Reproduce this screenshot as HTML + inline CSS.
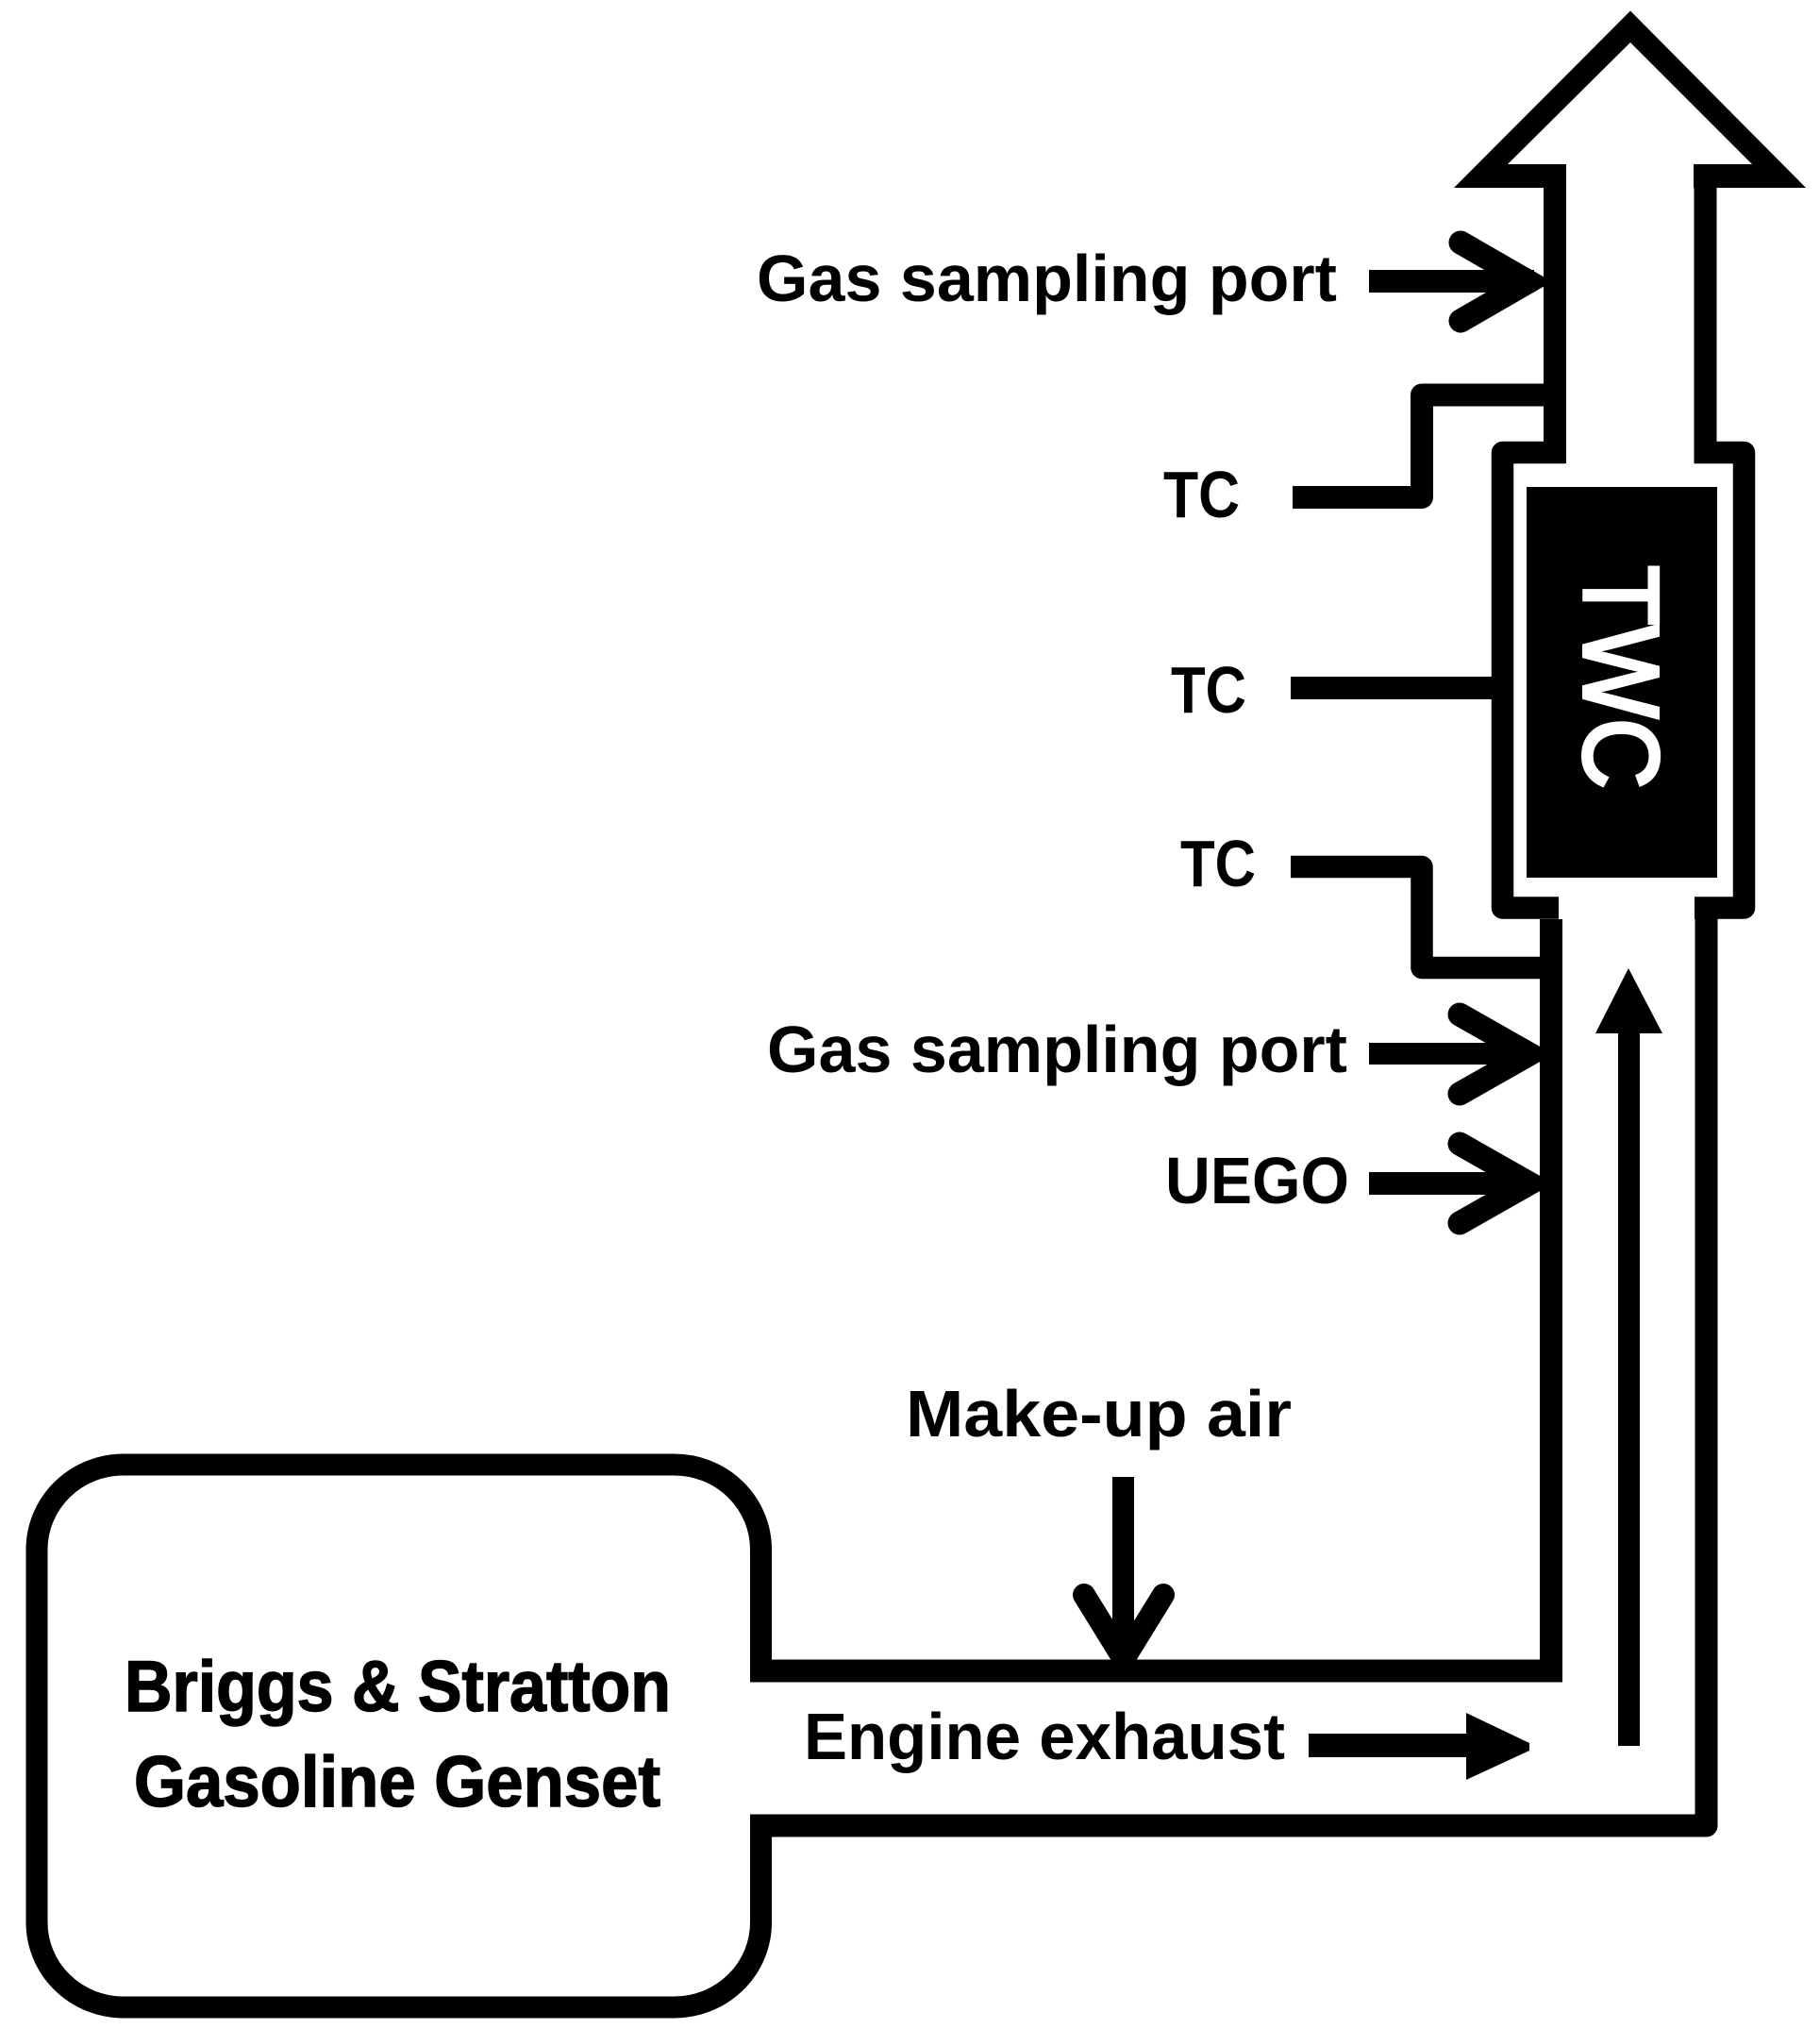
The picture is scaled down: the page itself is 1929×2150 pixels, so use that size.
<!DOCTYPE html>
<html><head><meta charset="utf-8"><style>
html,body{margin:0;padding:0;background:#fff}
svg{display:block}
text{font-family:"Liberation Sans",sans-serif;fill:#000}
.l{font-size:70px;font-weight:bold}
.b{font-size:76px;font-weight:bold;stroke:#000;stroke-width:1.5px}
</style></head><body>
<svg width="1929" height="2150" viewBox="0 0 1929 2150" xmlns="http://www.w3.org/2000/svg">
<rect width="1929" height="2150" fill="#fff"/>
<!-- engine box -->
<path d="M806.5,1782 L806.5,1642 A92,90 0 0 0 714.5,1552 L131,1552 A92,90 0 0 0 39,1642 L39,2037 A92,90 0 0 0 131,2127 L714.5,2127 A92,90 0 0 0 806.5,2037 L806.5,1923" fill="none" stroke="#000" stroke-width="23"/>
<!-- lower pipe -->
<path d="M1644,974 L1644,1770.5 L795,1770.5" fill="none" stroke="#000" stroke-width="24"/>
<path d="M795,1934.5 L1808.5,1934.5 L1808.5,962" fill="none" stroke="#000" stroke-width="24" stroke-linejoin="round"/>
<!-- flange -->
<path d="M1659,479.5 L1592.5,479.5 L1592.5,962 L1652,962" fill="none" stroke="#000" stroke-width="23.5" stroke-linejoin="round"/>
<path d="M1796,479.5 L1848.5,479.5 L1848.5,962 L1796,962" fill="none" stroke="#000" stroke-width="23.5" stroke-linejoin="round"/>
<!-- arrow head + upper walls -->
<polygon points="1728,11.5 1914,199 1541,199" fill="#000"/>
<polygon points="1728,45 1857,174 1598,174" fill="#fff"/>
<rect x="1660" y="170" width="135" height="35" fill="#fff"/>
<rect x="1636" y="174" width="24" height="317" fill="#000"/>
<rect x="1795.5" y="174" width="24" height="317" fill="#000"/>
<!-- TWC -->
<rect x="1618" y="516" width="202" height="414" fill="#000"/>
<text transform="translate(1679,599) rotate(90)" font-size="113" textLength="237" lengthAdjust="spacingAndGlyphs" style="fill:#fff;stroke:#fff;stroke-width:4px;font-family:'Liberation Sans',sans-serif">TWC</text>
<!-- TC leads -->
<path d="M1370,527 L1507,527 L1507,418.5 L1640,418.5" fill="none" stroke="#000" stroke-width="24" stroke-linejoin="round"/>
<rect x="1368" y="717" width="216" height="24" fill="#000"/>
<path d="M1368,918.5 L1507,918.5 L1507,1025.5 L1636,1025.5" fill="none" stroke="#000" stroke-width="23.5" stroke-linejoin="round"/>
<!-- port arrows -->
<g fill="none" stroke="#000" stroke-linecap="round" stroke-linejoin="miter" stroke-miterlimit="10" stroke-width="25">
<path d="M1548,257 L1620,298.5 L1548,340"/>
<path d="M1547,1075 L1621,1117 L1547,1159"/>
<path d="M1547,1212 L1621,1254 L1547,1296"/>
<path stroke-width="24" d="M1149,1690 L1191,1758 L1233,1690"/>
</g>
<rect x="1451" y="286" width="175" height="24" fill="#000"/>
<rect x="1451" y="1105" width="170" height="23" fill="#000"/>
<rect x="1451" y="1242" width="170" height="24" fill="#000"/>
<rect x="1636" y="240" width="24" height="120" fill="#000"/>
<rect x="1632" y="1050" width="24" height="260" fill="#000"/>
<!-- make-up stem -->
<rect x="1179" y="1565" width="23" height="195" fill="#000"/>
<rect x="1100" y="1759" width="190" height="23" fill="#000"/>
<!-- flow arrows -->
<rect x="1715" y="1090" width="23" height="760" fill="#000"/>
<polygon points="1726,1026 1762,1095 1691,1095" fill="#000"/>
<rect x="1387" y="1837" width="170" height="25" fill="#000"/>
<polygon points="1554,1815 1621,1847 1621,1855 1554,1886" fill="#000"/>
<!-- labels -->
<text class="l" x="802" y="319" textLength="615" lengthAdjust="spacingAndGlyphs">Gas sampling port</text>
<text class="l" x="1233" y="548" textLength="81" lengthAdjust="spacingAndGlyphs">TC</text>
<text class="l" x="1241" y="755" textLength="80" lengthAdjust="spacingAndGlyphs">TC</text>
<text class="l" x="1251" y="939" textLength="80" lengthAdjust="spacingAndGlyphs">TC</text>
<text class="l" x="813" y="1136" textLength="615" lengthAdjust="spacingAndGlyphs">Gas sampling port</text>
<text class="l" x="1235" y="1275" textLength="195" lengthAdjust="spacingAndGlyphs">UEGO</text>
<text class="l" x="960" y="1522" textLength="409" lengthAdjust="spacingAndGlyphs">Make-up air</text>
<text class="l" x="852" y="1864" textLength="510" lengthAdjust="spacingAndGlyphs">Engine exhaust</text>
<text class="b" x="132" y="1813" textLength="579" lengthAdjust="spacingAndGlyphs">Briggs &amp; Stratton</text>
<text class="b" x="142" y="1914" textLength="558" lengthAdjust="spacingAndGlyphs">Gasoline Genset</text>
</svg>
</body></html>
